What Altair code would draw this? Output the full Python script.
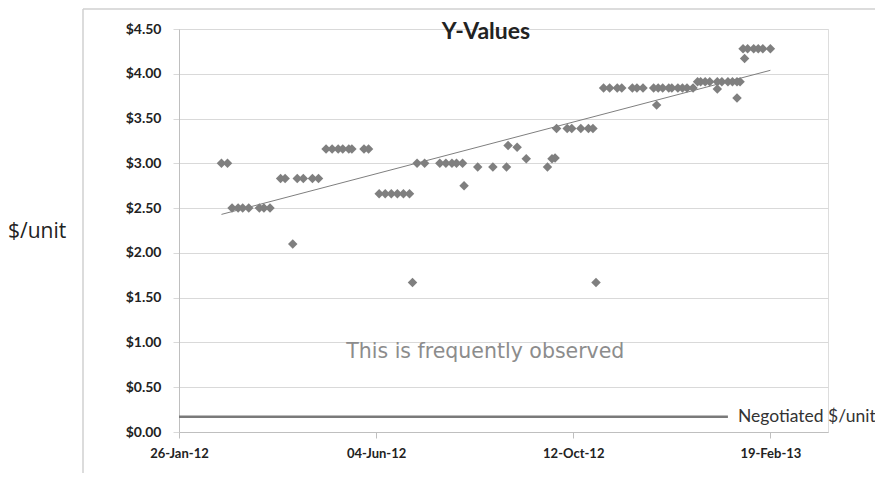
import altair as alt
import pandas as pd

# ---- data ----
dates = [
    "2012-02-23", "2012-02-27", "2012-03-01", "2012-03-05", "2012-03-08", "2012-03-12",
    "2012-03-19", "2012-03-22", "2012-03-26", "2012-04-02", "2012-04-05", "2012-04-10",
    "2012-04-13", "2012-04-17", "2012-04-23", "2012-04-27", "2012-05-02", "2012-05-06",
    "2012-05-10", "2012-05-13", "2012-05-17", "2012-05-19", "2012-05-27", "2012-05-30",
    "2012-06-06", "2012-06-10", "2012-06-14", "2012-06-18", "2012-06-22", "2012-06-26",
    "2012-06-28", "2012-07-01", "2012-07-06", "2012-07-16", "2012-07-20", "2012-07-24",
    "2012-07-27", "2012-07-31", "2012-08-01", "2012-08-10", "2012-08-20", "2012-08-29",
    "2012-08-30", "2012-09-05", "2012-09-11", "2012-09-25", "2012-09-28", "2012-09-30",
    "2012-10-01", "2012-10-08", "2012-10-11", "2012-10-17", "2012-10-22", "2012-10-25",
    "2012-10-27", "2012-11-01", "2012-11-05", "2012-11-10", "2012-11-13", "2012-11-20",
    "2012-11-23", "2012-11-27", "2012-12-04", "2012-12-06", "2012-12-07", "2012-12-10",
    "2012-12-14", "2012-12-16", "2012-12-20", "2012-12-23", "2012-12-26", "2012-12-30",
    "2013-01-02", "2013-01-04", "2013-01-07", "2013-01-10", "2013-01-15", "2013-01-15",
    "2013-01-18", "2013-01-22", "2013-01-25", "2013-01-28", "2013-01-28", "2013-01-30",
    "2013-02-02", "2013-02-01", "2013-02-04", "2013-02-08", "2013-02-11", "2013-02-14",
    "2013-02-19",
]
values = [
    3.00, 3.00, 2.50, 2.50, 2.50, 2.50,
    2.50, 2.50, 2.50, 2.83, 2.83, 2.10,
    2.83, 2.83, 2.83, 2.83, 3.16, 3.16,
    3.16, 3.16, 3.16, 3.16, 3.16, 3.16,
    2.66, 2.66, 2.66, 2.66, 2.66, 2.66,
    1.67, 3.00, 3.00, 3.00, 3.00, 3.00,
    3.00, 3.00, 2.75, 2.96, 2.96, 2.96,
    3.20, 3.18, 3.05, 2.96, 3.05, 3.06,
    3.39, 3.39, 3.39, 3.39, 3.39, 3.39,
    1.67, 3.84, 3.84, 3.84, 3.84, 3.84,
    3.84, 3.84, 3.84, 3.65, 3.84, 3.84,
    3.84, 3.84, 3.84, 3.84, 3.84, 3.84,
    3.91, 3.91, 3.91, 3.91, 3.91, 3.83,
    3.91, 3.91, 3.91, 3.91, 3.73, 3.91,
    4.17, 4.28, 4.28, 4.28, 4.28, 4.28,
    4.28,
]

negotiated_dates = ["2012-01-26", "2013-01-22"]
negotiated_values = [0.17, 0.17]
negotiated_label = "Negotiated $/unit"

note_date = ["2012-08-15"]
note_value = [0.89]
note_text = ["This is frequently observed"]

x_tick_dates = [(2012, 1, 26), (2012, 6, 4), (2012, 10, 12), (2013, 2, 19)]
x_domain = [(2012, 1, 26), (2013, 3, 29)]
y_ticks = [0, 0.5, 1.0, 1.5, 2.0, 2.5, 3.0, 3.5, 4.0, 4.5]

title_text = "Y-Values"
y_title = "$/unit"

# ---- tables ----
pts = pd.DataFrame({"date": dates, "value": values})
neg = pd.DataFrame({"date": negotiated_dates, "value": negotiated_values})
neg_lab = pd.DataFrame({"date": negotiated_dates[-1:], "value": negotiated_values[-1:],
                        "label": [negotiated_label]})
note = pd.DataFrame({"date": note_date, "value": note_value, "label": note_text})


def dt(t):
    return alt.DateTime(year=t[0], month=t[1], date=t[2], utc=True)


xscale = alt.Scale(type="utc", domain=[dt(t) for t in x_domain])
yscale = alt.Scale(domain=[0, 4.5], nice=False, zero=True)

x_axis = alt.Axis(values=[dt(t) for t in x_tick_dates], format="%d-%b-%y", title=None,
                  grid=False, labelFont="Lato", labelFontWeight="bold", labelFontSize=13,
                  labelColor="#222222", tickColor="#bfbfbf", domainColor="#bfbfbf",
                  tickSize=6, labelPadding=9, labelFlush=False)
y_axis = alt.Axis(values=y_ticks, format="$.2f", title=None, grid=True,
                  gridColor="#d9d9d9", gridWidth=1, labelFont="Lato",
                  labelFontWeight="bold", labelFontSize=14, labelColor="#222222",
                  tickColor="#d9d9d9", domainColor="#bfbfbf", tickSize=6, labelPadding=12)

X = alt.X("date:T", scale=xscale, axis=x_axis)
Y = alt.Y("value:Q", scale=yscale, axis=y_axis)

points = alt.Chart(pts).mark_point(shape="diamond", filled=True, size=90,
                                   color="#7f7f7f", opacity=1).encode(x=X, y=Y)

trend = alt.Chart(pts).transform_regression("date", "value").mark_line(
    color="#7f7f7f", strokeWidth=1).encode(
    x=alt.X("date:T", scale=xscale), y=alt.Y("value:Q", scale=yscale))

neg_line = alt.Chart(neg).mark_line(color="#7a7a7a", strokeWidth=2.5).encode(
    x=alt.X("date:T", scale=xscale), y=alt.Y("value:Q", scale=yscale))

neg_text = alt.Chart(neg_lab).mark_text(align="left", baseline="middle", dx=10,
                                        font="Lato", fontSize=17.5, color="#333333").encode(
    x=alt.X("date:T", scale=xscale), y=alt.Y("value:Q", scale=yscale), text="label:N")

note_mark = alt.Chart(note).mark_text(align="center", baseline="middle", font="DejaVu Sans",
                                      fontSize=20.5, color="#8c8c8c").encode(
    x=alt.X("date:T", scale=xscale), y=alt.Y("value:Q", scale=yscale), text="label:N")

title_mark = alt.Chart(pd.DataFrame({"t": [title_text]})).mark_text(
    align="center", baseline="middle", font="Lato", fontWeight="bold", fontSize=23,
    color="#222222").encode(x=alt.value(307), y=alt.value(3), text="t:N")

ytitle_mark = alt.Chart(pd.DataFrame({"t": [y_title]})).mark_text(
    align="left", baseline="middle", font="Open Sans", fontSize=21,
    color="#222222").encode(x=alt.value(-171), y=alt.value(203), text="t:N")

border_v = alt.Chart(pd.DataFrame({"a": [0]})).mark_rule(color="#d0d0d0", strokeWidth=1.5).encode(
    x=alt.value(-96), y=alt.value(-20), y2=alt.value(444))
border_h = alt.Chart(pd.DataFrame({"a": [0]})).mark_rule(color="#d0d0d0", strokeWidth=1.5).encode(
    x=alt.value(-96), x2=alt.value(696), y=alt.value(-20))

chart = alt.layer(border_v, border_h, neg_line, trend, points, neg_text, note_mark,
                  title_mark, ytitle_mark).properties(
    width=649, height=403,
    autosize=alt.AutoSizeParams(type="none"),
    padding={"left": 171, "top": 21, "right": 47, "bottom": 41},
).configure_view(stroke=None).configure(background="white")

chart.save("out.html", embed_options={"renderer": "svg", "actions": False})
